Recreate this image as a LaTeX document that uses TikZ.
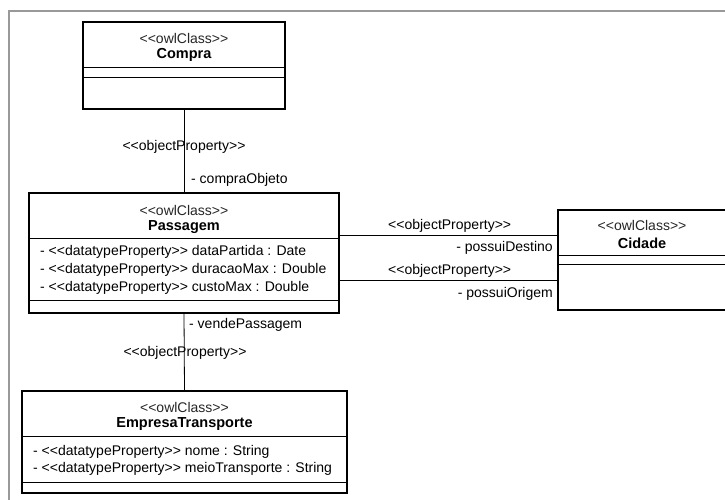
\documentclass[tikz,border=0pt]{standalone}
\usepackage{fontspec}
\newfontfamily\arialf{Liberation Sans}
\begin{document}
\begin{tikzpicture}[x=1pt,y=-1pt,
  cls/.style={draw=black,line width=1.6pt,rectangle,inner sep=0pt,fill=white},
  sep/.style={line width=0.8pt},
  conn/.style={line width=0.8pt},
  txt/.style={inner sep=0pt,font=\arialf\fontsize{14}{16}\selectfont},
  ster/.style={txt,text=black!85},
  bold/.style={txt,font=\arialf\fontsize{14.5}{16}\selectfont\bfseries},
  attr/.style={txt,anchor=west}]
\useasboundingbox (0,0) rectangle (725,500);
\fill[white] (0,0) rectangle (725,500);
\draw[black!40,line width=1.6pt] (9,500) -- (9,11) -- (725,11);

% Compra
\node[cls,minimum width=202pt,minimum height=87pt] (compra) at (184,65.5) {};
\draw[sep] (compra.west |- 0,67.7) -- (compra.east |- 0,67.7);
\draw[sep] (compra.west |- 0,77) -- (compra.east |- 0,77);
\node[ster] (compraS) at (184,38) {<<owlClass>>};
\node[bold] (compraN) at (184,55) {Compra};

% Passagem
\node[cls,minimum width=310pt,minimum height=120pt] (pass) at (184,253) {};
\draw[sep] (pass.west |- 0,238) -- (pass.east |- 0,238);
\draw[sep] (pass.west |- 0,300.7) -- (pass.east |- 0,300.7);
\node[ster] (passS) at (184,210) {<<owlClass>>};
\node[bold] (passN) at (184,227) {Passagem};
\node[attr] (pa1) at (40,252) {- <<datatypeProperty>> dataPartida : Date};
\node[attr] (pa2) at (40,270) {- <<datatypeProperty>> duracaoMax : Double};
\node[attr] (pa3) at (40,288) {- <<datatypeProperty>> custoMax : Double};

% Cidade
\node[cls,minimum width=168pt,minimum height=100pt] (cid) at (642,260) {};
\draw[sep] (cid.west |- 0,255) -- (cid.east |- 0,255);
\draw[sep] (cid.west |- 0,264) -- (cid.east |- 0,264);
\node[ster] (cidS) at (642,225) {<<owlClass>>};
\node[bold] (cidN) at (642,243) {Cidade};

% EmpresaTransporte
\node[cls,minimum width=325pt,minimum height=102pt] (emp) at (184.5,442) {};
\draw[sep] (emp.west |- 0,436) -- (emp.east |- 0,436);
\draw[sep] (emp.west |- 0,482) -- (emp.east |- 0,482);
\node[ster] (empS) at (184.5,407) {<<owlClass>>};
\node[bold] (empN) at (184.5,424) {EmpresaTransporte};
\node[attr] (ea1) at (33,452) {- <<datatypeProperty>> nome : String};
\node[attr] (ea2) at (33,469) {- <<datatypeProperty>> meioTransporte : String};

% connectors
\draw[conn] (compra.south) -- (pass.north);
\node[txt] (l1) at (184,147) {<<objectProperty>>};
\node[txt,anchor=west] (l2) at (191,180) {- compraObjeto};

\draw[conn] (pass.south) -- (emp.north);
\node[txt,anchor=west] (l3) at (189,325) {- vendePassagem};
\node[txt] (l4) at (185,353) {<<objectProperty>>};

\draw[conn] (pass.east |- 0,235) -- (cid.west |- 0,235);
\node[txt,anchor=west] (l5) at (388,226) {<<objectProperty>>};
\node[txt,anchor=east] (l6) at (553,248) {- possuiDestino};
\draw[conn] (pass.east |- 0,280) -- (cid.west |- 0,280);
\node[txt,anchor=west] (l7) at (388,271) {<<objectProperty>>};
\node[txt,anchor=east] (l8) at (553,294) {- possuiOrigem};
\end{tikzpicture}
\end{document}
